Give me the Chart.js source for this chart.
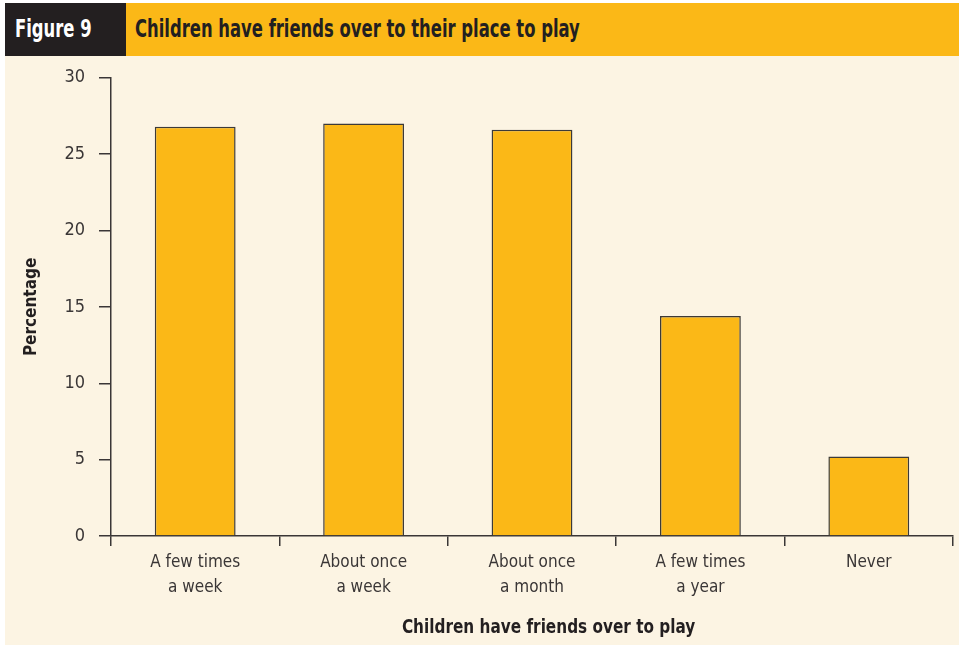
<!DOCTYPE html>
<html>
<head>
<meta charset="utf-8">
<script src="https://cdn.jsdelivr.net/npm/chart.js@4"></script>
<style>
  body { margin: 0; background: #fff; width: 959px; height: 645px; overflow: hidden; position: relative;
         font-family: 'Liberation Sans Narrow', 'DejaVu Sans Condensed', sans-serif; }
  .head { position: absolute; top: 3px; left: 5px; right: 0; height: 53px; display: flex; }
  .fig { width: 121px; background: #231f20; color: #fff; font-weight: bold; font-size: 24px;
         line-height: 53px; padding-left: 10px; box-sizing: border-box; white-space: nowrap; }
  .ttl { flex: 1; background: #fbb817; color: #231f20; font-weight: bold; font-size: 24px;
         line-height: 53px; padding-left: 9px; white-space: nowrap; }
  .narrow { display: inline-block; transform: scaleX(0.76); transform-origin: left center; }
  .panel { position: absolute; top: 56px; left: 5px; width: 954px; height: 589px; background: #fcf4e3; }
  .panel canvas { position: absolute; top: -3px; left: 0; }
  .xt { position: absolute; top: 614px; left: 5px; width: 1088px; text-align: center;
        font-weight: bold; font-size: 20px; color: #231f20; }
  .xt span { display: inline-block; transform: scaleX(0.85); }
</style>
</head>
<body>
<div class="head">
  <div class="fig"><span class="narrow">Figure 9</span></div>
  <div class="ttl"><span class="narrow">Children have friends over to their place to play</span></div>
</div>
<div class="panel"><canvas id="myChart" width="954" height="592"></canvas></div>
<div class="xt"><span>Children have friends over to play</span></div>
<script>
const categories = [['A few times', 'a week'], ['About once', 'a week'], ['About once', 'a month'], ['A few times', 'a year'], 'Never'];
const percentages = [26.8, 27.0, 26.6, 14.4, 5.2];
const yTicks = [0, 5, 10, 15, 20, 25, 30];

const FONT = "'Liberation Sans Narrow', 'DejaVu Sans Condensed', sans-serif";
const INK = '#3a3636';

const ctx = document.getElementById('myChart').getContext('2d');

let chart = new Chart(ctx, {
    type: 'bar',
    data: {
        labels: categories,
        datasets: [{
            data: percentages,
            backgroundColor: '#fbb817',
            borderColor: '#3c3a38',
            borderWidth: 1.5,
            categoryPercentage: 1,
            barPercentage: 0.48,
        }]
    },
    options: {
        responsive: false,
        animation: false,
        layout: { padding: { top: 15, right: 6, left: 0, bottom: 0 } },
        plugins: { legend: { display: false }, tooltip: { enabled: false } },
        scales: {
            y: {
                min: 0,
                max: 30,
                afterBuildTicks: scale => { scale.ticks = yTicks.map(v => ({ value: v })); },
                afterFit: scale => { scale.width = 106; },
                grid: { drawOnChartArea: false, drawTicks: true, tickLength: 12, color: INK, lineWidth: 1.5 },
                border: { display: true, color: INK, width: 1.5 },
                ticks: { padding: 14, color: INK, font: { family: FONT, size: 18 } },
                title: {
                    display: true,
                    text: 'Percentage',
                    color: '#231f20',
                    font: { family: FONT, size: 17, weight: 'bold' },
                    padding: { top: 16, bottom: 0 }
                }
            },
            x: {
                afterFit: scale => { scale.height = 109; },
                grid: { offset: true, drawOnChartArea: false, drawTicks: true, tickLength: 10, color: INK, lineWidth: 1.5 },
                border: { display: true, color: INK, width: 1.5 },
                ticks: { padding: 5, color: INK, maxRotation: 0, font: { family: FONT, size: 17, lineHeight: 1.42 } }
            }
        }
    }
});
</script>
</body>
</html>
